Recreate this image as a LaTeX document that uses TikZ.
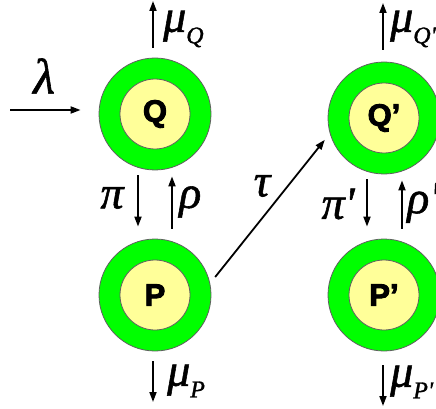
\documentclass[tikz,border=0pt]{standalone}
\usepackage{fontspec}
\setmainfont{Liberation Serif}
\newfontfamily\lblfont[UprightFont=* Bold,FakeBold=3]{Liberation Sans}
\newfontfamily\grkfont[ItalicFeatures={FakeBold=1.2}]{Liberation Serif}
\usetikzlibrary{arrows.meta}
\definecolor{ringgreen}{HTML}{00FF00}
\definecolor{coreyellow}{HTML}{FFFF99}
\definecolor{rimgray}{HTML}{606060}
% rate label: greek letter with a subscript
\newcommand{\rt}[2]{#1\raisebox{-.25em}{\fontsize{24}{24}\selectfont #2}}
\newcommand{\pr}{\textquotesingle}
\tikzset{
  ring/.style={circle,fill=ringgreen,draw=rimgray,line width=.8pt,minimum size=112pt,inner sep=0pt},
  core/.style={circle,fill=coreyellow,draw=rimgray,line width=.8pt,minimum size=70pt,inner sep=0pt,
    font=\lblfont\fontsize{31}{31}\selectfont},
  flow/.style={-{Triangle[length=10pt,width=7pt]},line width=1.8pt},
  rate/.style={font=\grkfont\itshape\fontsize{46}{48}\selectfont,inner sep=0pt}
}
\begin{document}
\begin{tikzpicture}[x=1pt,y=-1pt]
\useasboundingbox (0,0) rectangle (436,409);
\clip (0,0) rectangle (436,409);
% queues
\node[ring] (Q) at (155,114) {};
\node[core] (Qc) at (Q) {Q};
\node[ring] (P) at (155,295) {};
\node[core] (Pc) at (P) {P};
\node[ring] (Qp) at (384,118) {};
\node[core] (Qpc) at (Qp) {Q’};
\node[ring] (Pp) at (384,295) {};
\node[core] (Ppc) at (Pp) {P’};
% free ends
\coordinate (in) at (10,110);
\coordinate (muQ) at (153,1);
\coordinate (muP) at (153,402);
\coordinate (muQp) at (383,3);
\coordinate (muPp) at (383,406);
% arrows
\draw[flow] (in) -- ([xshift=-18pt,yshift=4pt]Q.west);
\draw[flow,shorten <=10pt] ([xshift=-2pt]Q.north) -- (muQ);
\draw[flow,shorten <=5pt,shorten >=12pt] ([xshift=-17pt]Q.south) -- ([xshift=-17pt]P.north);
\draw[flow,shorten <=10pt,shorten >=6pt] ([xshift=17pt]P.north) -- ([xshift=17pt]Q.south);
\draw[flow,shorten <=10pt] ([xshift=-2pt]P.south) -- (muP);
\draw[flow,shorten <=8pt,shorten >=8pt] (P.12) -- (Qp.196);
\draw[flow,shorten <=12pt] ([xshift=-1pt]Qp.north) -- (muQp);
\draw[flow,shorten <=5pt,shorten >=12pt] ([xshift=-17pt]Qp.south) -- ([xshift=-17pt]Pp.north);
\draw[flow,shorten <=10pt,shorten >=6pt] ([xshift=18pt]Pp.north) -- ([xshift=18pt]Qp.south);
\draw[flow,shorten <=14pt] ([xshift=-1pt]Pp.south) -- (muPp);
% rate labels
\node[rate,font=\grkfont\itshape\fontsize{50}{50}\selectfont] (lam) at (44,76) {λ};
\node[rate,anchor=west] (lmuQ) at (163,29) {\rt{μ}{Q}};
\node[rate] (lpi) at (112,198) {π};
\node[rate,anchor=west] (lrho) at (179,202) {ρ};
\node[rate,anchor=west] (lmuP) at (167,381) {\rt{μ}{P}};
\node[rate] (ltau) at (262,186) {τ};
\node[rate,anchor=west] (lmuQp) at (390,29) {\rt{μ}{Q\pr}};
\node[rate] (lpip) at (338,204) {π\pr};
\node[rate,anchor=west] (lrhop) at (407,203) {ρ\pr};
\node[rate,anchor=west] (lmuPp) at (390,382) {\rt{μ}{P\pr}};
\end{tikzpicture}
\end{document}
